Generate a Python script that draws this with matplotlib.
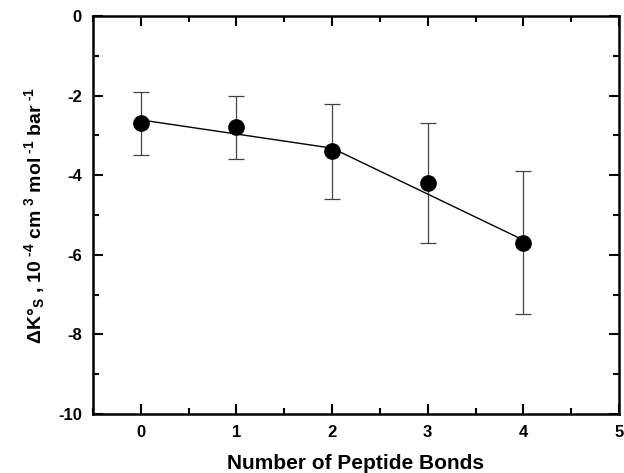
import numpy as np
import matplotlib.pyplot as plt
from matplotlib.ticker import MultipleLocator

# Datos
enlaces = [0, 1, 2, 3, 4]
delta_k = [-2.7, -2.8, -3.4, -4.2, -5.7]
err_sup = [0.8, 0.8, 1.2, 1.5, 1.8]   # hacia arriba
err_inf = [0.8, 0.8, 1.2, 1.5, 1.8]   # hacia abajo

# Linea de ajuste (por tramos)
ajuste_x = [0, 2, 4]
ajuste_y = [-2.61, -3.32, -5.63]

plt.rcParams['font.family'] = ['Liberation Sans', 'DejaVu Sans']
plt.rcParams['axes.unicode_minus'] = False
plt.rcParams['mathtext.fontset'] = 'custom'
plt.rcParams['mathtext.rm'] = 'Liberation Sans:bold'
plt.rcParams['mathtext.it'] = 'Liberation Sans:bold'
plt.rcParams['mathtext.bf'] = 'Liberation Sans:bold'
plt.rcParams['mathtext.default'] = 'rm'

fig = plt.figure(figsize=(6.24, 4.73), dpi=100)
ax = fig.add_axes([0.149, 0.125, 0.843, 0.841])

ax.plot(ajuste_x, ajuste_y, color='black', lw=1.0, zorder=2)
ax.errorbar(enlaces, delta_k, yerr=[err_inf, err_sup], fmt='none',
            ecolor='#444444', elinewidth=0.9, capsize=6, capthick=0.9, zorder=1)
ax.plot(enlaces, delta_k, 'o', color='black', markersize=11, zorder=3)

ax.set_xlim(-0.5, 5)
ax.set_ylim(-10, 0)
ax.xaxis.set_major_locator(MultipleLocator(1))
ax.xaxis.set_minor_locator(MultipleLocator(0.5))
ax.yaxis.set_major_locator(MultipleLocator(2))
ax.yaxis.set_minor_locator(MultipleLocator(1))
ax.tick_params(which='both', direction='in', top=True, right=True, width=1.5,
               labelsize=12, pad=8)
ax.tick_params(which='major', length=7)
ax.tick_params(which='minor', length=4)
for lab in ax.get_xticklabels() + ax.get_yticklabels():
    lab.set_fontweight('bold')
for s in ax.spines.values():
    s.set_linewidth(1.8)

ax.set_xlabel('Number of Peptide Bonds', fontsize=15, fontweight='bold', labelpad=10)
ax.set_ylabel('$\\Delta$K°$_{S}$ , 10$^{\\ \u20104}$ cm$^{\\ 3}$ mol$^{\\ \u20101}$ bar$^{\\ \u20101}$',
              fontsize=14, fontweight='bold', labelpad=8)

fig.savefig('out.png', dpi=100)
